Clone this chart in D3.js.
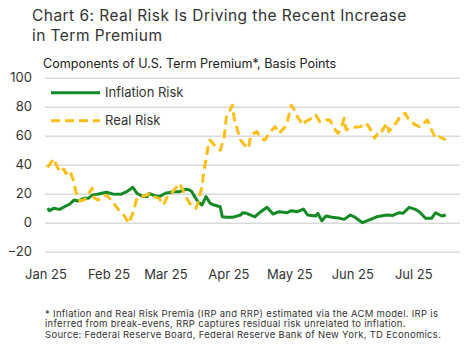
<!DOCTYPE html>
<html><head><meta charset="utf-8">
<script src="https://cdn.jsdelivr.net/npm/d3@7"></script>
<style>
html,body{margin:0;padding:0;background:#fff;}
svg{display:block;font-family:Inter, "Open Sans", sans-serif;}
</style></head>
<body><svg id="c" width="467" height="352"></svg>
<script>
const titleLines = ["Chart 6: Real Risk Is Driving the Recent Increase", "in Term Premium"];
const subtitle = "Components of U.S. Term Premium*, Basis Points";
const footnotes = [
  "* Inflation and Real Risk Premia (IRP and RRP) estimated via the ACM model. IRP is",
  "inferred from break-evens, RRP captures residual risk unrelated to inflation.",
  "Source: Federal Reserve Board, Federal Reserve Bank of New York, TD Economics."
];
const yTicks = [-20, 0, 20, 40, 60, 80, 100];
const xTickDates = ["2025-01-01","2025-02-01","2025-03-01","2025-04-01","2025-05-01","2025-06-01","2025-07-01"];
const seriesNames = ["Inflation Risk", "Real Risk"];

const inflationDates = ["2025-01-02","2025-01-03","2025-01-05","2025-01-08","2025-01-11","2025-01-13","2025-01-15","2025-01-17","2025-01-20","2025-01-22","2025-01-24","2025-01-27","2025-01-31","2025-02-03","2025-02-07","2025-02-10","2025-02-13","2025-02-15","2025-02-18","2025-02-20","2025-02-21","2025-02-23","2025-02-26","2025-03-01","2025-03-05","2025-03-08","2025-03-11","2025-03-13","2025-03-14","2025-03-15","2025-03-17","2025-03-19","2025-03-21","2025-03-23","2025-03-25","2025-03-28","2025-03-29","2025-03-31","2025-04-03","2025-04-07","2025-04-08","2025-04-10","2025-04-14","2025-04-17","2025-04-20","2025-04-23","2025-04-26","2025-04-30","2025-05-02","2025-05-05","2025-05-08","2025-05-10","2025-05-14","2025-05-15","2025-05-17","2025-05-19","2025-05-22","2025-05-26","2025-05-28","2025-05-31","2025-06-02","2025-06-06","2025-06-10","2025-06-13","2025-06-18","2025-06-21","2025-06-24","2025-06-26","2025-06-29","2025-07-02","2025-07-04","2025-07-07","2025-07-10","2025-07-12","2025-07-15","2025-07-17"];
const inflationValues = [9.9,8.3,9.9,9.2,11.5,12.9,15.6,15,16.8,16.8,19,19.8,21,19.8,19.6,21.4,24.4,20.3,18,18,20.3,19,18,20.3,21.4,21.4,23,22.5,21.4,19,14.5,12.2,18,13.4,12.2,11,4.1,3.7,3.7,5.3,6.9,6.5,4.1,7.6,10.6,6,7.6,6.9,8.3,7.6,9.4,5.3,4.6,6.5,1.4,4.6,3.7,3,2.3,5.3,4.1,0,2.3,4.1,5.3,5,6.9,6.5,10.6,9.2,7.6,3,3,6.9,4.6,5.3];

const realDates = ["2025-01-02","2025-01-05","2025-01-08","2025-01-10","2025-01-11","2025-01-13","2025-01-15","2025-01-16","2025-01-18","2025-01-20","2025-01-24","2025-01-25","2025-01-27","2025-01-29","2025-01-31","2025-02-03","2025-02-06","2025-02-08","2025-02-11","2025-02-13","2025-02-15","2025-02-17","2025-02-20","2025-02-21","2025-02-23","2025-02-26","2025-02-28","2025-03-02","2025-03-04","2025-03-06","2025-03-08","2025-03-10","2025-03-12","2025-03-14","2025-03-16","2025-03-17","2025-03-19","2025-03-20","2025-03-21","2025-03-22","2025-03-23","2025-03-25","2025-03-28","2025-03-30","2025-03-31","2025-04-03","2025-04-04","2025-04-07","2025-04-09","2025-04-11","2025-04-12","2025-04-15","2025-04-17","2025-04-19","2025-04-21","2025-04-24","2025-04-26","2025-04-29","2025-04-30","2025-05-02","2025-05-04","2025-05-05","2025-05-08","2025-05-09","2025-05-12","2025-05-14","2025-05-16","2025-05-18","2025-05-21","2025-05-23","2025-05-25","2025-05-27","2025-05-28","2025-05-29","2025-06-01","2025-06-05","2025-06-08","2025-06-10","2025-06-12","2025-06-14","2025-06-15","2025-06-18","2025-06-19","2025-06-21","2025-06-23","2025-06-25","2025-06-27","2025-06-29","2025-07-02","2025-07-04","2025-07-07","2025-07-08","2025-07-10","2025-07-12","2025-07-14","2025-07-17"];
const realValues = [38,44,35,37,34,36,28,21,15,15.6,23.7,17,15.6,18,19,14.5,8.8,6.5,-0.4,6.5,16.8,18,19,20,18,16.8,12.2,18,20.3,23.7,27,21.4,15.6,11,9.9,13.4,24.8,36.3,43,52.4,57,53.6,50,59.3,73,81,70.8,57,53.6,51.3,60.5,62.8,58.2,57,61.7,66.2,61.7,66.2,69.7,81,76.6,73,67.4,69.7,72,74.3,69.7,70.8,70.8,65.1,61.7,67.4,72,64,65.8,66.2,68.6,64,58.2,62.8,62,68.6,62.8,66.2,69.7,74.3,75.4,70.8,67.4,66.2,69.7,70.8,64,58.2,59.3,57];

const colors = ["#138a23", "#fdbf17"];
const textColor = "#333";

const parse = d3.utcParse("%Y-%m-%d");
const svg = d3.select("#c");

const x = d3.scaleUtc().domain([parse("2025-01-01"), parse("2025-07-24")]).range([45.5, 460]);
const y = d3.scaleLinear().domain([-20, 100]).range([251.7, 77.7]);

// titles
svg.selectAll("text.title").data(titleLines).join("text")
  .attr("x", 32).attr("y", (d,i) => 21 + i*19.5)
  .attr("font-size", 15.5).attr("letter-spacing", 0.45).attr("fill", textColor).text(d => d);
svg.append("text").attr("x", 43).attr("y", 67.5).attr("font-size", 12.6)
  .attr("fill", "#222").text(subtitle);

// gridlines + y axis
const yAxis = d3.axisLeft(y).tickValues(yTicks).tickSize(-(460 - 45)).tickPadding(13).tickFormat(d3.format("d"));
const gy = svg.append("g").attr("transform", "translate(45,0)").call(yAxis);
gy.select(".domain").remove();
gy.selectAll(".tick line").attr("stroke", "#d9d9d9").attr("stroke-width", 1.5);
gy.selectAll(".tick text").attr("font-size", 13).attr("fill", textColor).attr("font-family", "Inter, sans-serif");

// x axis
const xAxis = d3.axisBottom(x).tickValues(xTickDates.map(parse)).tickSize(0).tickPadding(12).tickFormat(d3.utcFormat("%b %y"));
const gx = svg.append("g").attr("transform", "translate(0,258)").call(xAxis);
gx.select(".domain").remove();
gx.selectAll(".tick text").attr("font-size", 13).attr("fill", textColor).attr("font-family", "Inter, sans-serif");

const line = d3.line().x(d => x(d.date)).y(d => y(d.v)).curve(d3.curveLinear);
const infl = inflationDates.map((d,i) => ({date: parse(d), v: inflationValues[i]}));
const real = realDates.map((d,i) => ({date: parse(d), v: realValues[i]}));

svg.append("path").datum(infl).attr("d", line).attr("fill", "none")
  .attr("stroke", colors[0]).attr("stroke-width", 3).attr("stroke-linejoin", "round");
svg.append("path").datum(real).attr("d", line).attr("fill", "none")
  .attr("stroke", colors[1]).attr("stroke-width", 3).attr("stroke-dasharray", "9 5").attr("stroke-linejoin", "round");

// legend
const lg = svg.append("g");
seriesNames.forEach((name, i) => {
  const yy = 92.7 + i * 28;
  lg.append("line").attr("x1", 51).attr("x2", 100).attr("y1", yy).attr("y2", yy)
    .attr("stroke", colors[i]).attr("stroke-width", 3)
    .attr("stroke-dasharray", i === 1 ? "9 5" : null);
  lg.append("text").attr("x", 105).attr("y", yy).attr("dy", "0.35em")
    .attr("font-size", 13).attr("fill", textColor).text(name);
});

// footnotes
svg.selectAll("text.fn").data(footnotes).join("text")
  .attr("x", 45).attr("y", (d,i) => 316.5 + i*10.6)
  .attr("font-size", 9.5).attr("letter-spacing", 0.3).attr("fill", textColor).text(d => d);
</script></body></html>
